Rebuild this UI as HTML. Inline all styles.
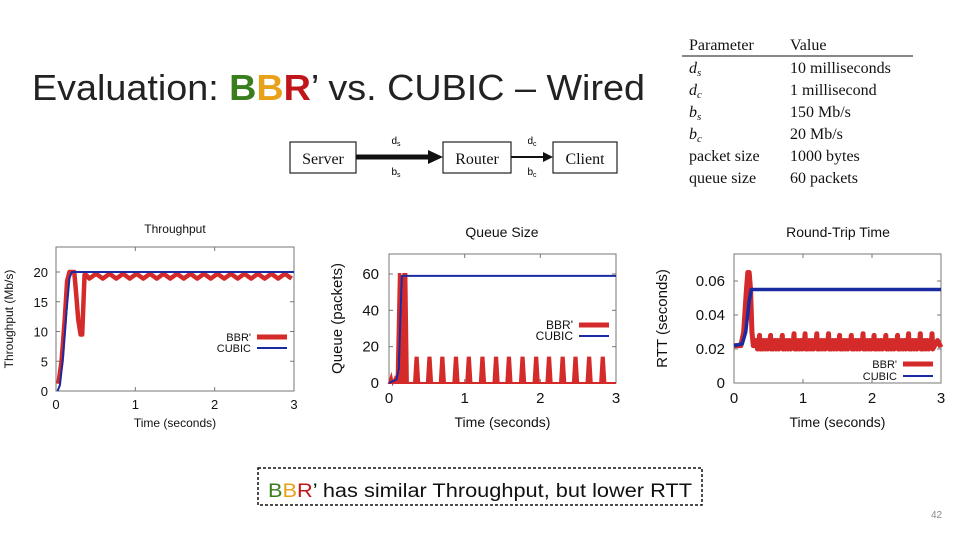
<!DOCTYPE html>
<html><head><meta charset="utf-8"><style>
html,body{margin:0;padding:0;background:#fff;}
svg{display:block;font-family:"Liberation Sans",sans-serif;}
.ser{font-family:"Liberation Serif",serif;font-size:16px;fill:#111;}
.tk{font-size:13px;fill:#111;}
.tk2{font-size:15px;fill:#111;}
</style></head><body>
<svg id="root" width="960" height="540" viewBox="0 0 960 540">
<text x="32" y="100" font-size="36" textLength="613" lengthAdjust="spacingAndGlyphs" fill="#222">Evaluation: <tspan fill="#3a7d1e" font-weight="bold">B</tspan><tspan fill="#e8a21a" font-weight="bold">B</tspan><tspan fill="#c0151a" font-weight="bold">R</tspan>’ vs. CUBIC – Wired</text>

<g>
<rect x="290" y="142" width="66" height="31" fill="none" stroke="#222" stroke-width="1.2"/>
<text x="323" y="164" class="ser" font-size="17" text-anchor="middle">Server</text>
<rect x="443" y="142" width="68" height="31" fill="none" stroke="#222" stroke-width="1.2"/>
<text x="477" y="164" class="ser" font-size="17" text-anchor="middle">Router</text>
<rect x="553" y="142" width="64" height="31" fill="none" stroke="#222" stroke-width="1.2"/>
<text x="585" y="164" class="ser" font-size="17" text-anchor="middle">Client</text>
<line x1="356" y1="157" x2="430" y2="157" stroke="#111" stroke-width="5"/>
<polygon points="428,150 443,157 428,164" fill="#111"/>
<line x1="511" y1="157" x2="545" y2="157" stroke="#111" stroke-width="2"/>
<polygon points="543,152 553,157 543,162" fill="#111"/>
<text x="396" y="144" font-size="10" text-anchor="middle">d<tspan font-size="7" dy="2">s</tspan></text>
<text x="396" y="175" font-size="10" text-anchor="middle">b<tspan font-size="7" dy="2">s</tspan></text>
<text x="532" y="144" font-size="10" text-anchor="middle">d<tspan font-size="7" dy="2">c</tspan></text>
<text x="532" y="175" font-size="10" text-anchor="middle">b<tspan font-size="7" dy="2">c</tspan></text>
</g>

<g>
<text x="689" y="50" class="ser">Parameter</text><text x="790" y="50" class="ser">Value</text>
<line x1="682" y1="56" x2="913" y2="56" stroke="#111" stroke-width="1"/>
<text x="689" y="73" class="ser" font-style="italic">d<tspan font-size="11" dy="3">s</tspan></text><text x="790" y="73" class="ser">10 milliseconds</text>
<text x="689" y="95" class="ser" font-style="italic">d<tspan font-size="11" dy="3">c</tspan></text><text x="790" y="95" class="ser">1 millisecond</text>
<text x="689" y="117" class="ser" font-style="italic">b<tspan font-size="11" dy="3">s</tspan></text><text x="790" y="117" class="ser">150 Mb/s</text>
<text x="689" y="139" class="ser" font-style="italic">b<tspan font-size="11" dy="3">c</tspan></text><text x="790" y="139" class="ser">20 Mb/s</text>
<text x="689" y="161" class="ser">packet size</text><text x="790" y="161" class="ser">1000 bytes</text>
<text x="689" y="183" class="ser">queue size</text><text x="790" y="183" class="ser">60 packets</text>
</g>

<g id="charts"></g>

<g>
<rect x="258" y="468" width="444" height="37" fill="#fff" stroke="#111" stroke-width="1.5" stroke-dasharray="3,2"/>
<text x="268" y="497" font-size="19" textLength="424" lengthAdjust="spacingAndGlyphs" fill="#111"><tspan fill="#3a7d1e">B</tspan><tspan fill="#e8a21a">B</tspan><tspan fill="#c0151a">R</tspan>’ has similar Throughput, but lower RTT</text>
</g>
<text x="931" y="518" font-size="10" fill="#888">42</text>
</svg>
<script>
// ---- Throughput data ----
const tpBbrT = [0.03,0.07,0.11,0.14,0.17,0.2,0.23,0.25,0.28,0.31,0.33,0.36,0.38,0.42,0.505,0.59,0.675,0.76,0.845,0.93,1.015,1.1,1.185,1.27,1.355,1.44,1.525,1.61,1.695,1.78,1.865,1.95,2.035,2.12,2.205,2.29,2.375,2.46,2.545,2.63,2.715,2.8,2.885,2.97];
const tpBbrV = [1.2,5,12,18.5,20,20,20,17,12,9.5,9.5,19.5,19.5,18.9,19.7,18.9,19.7,18.9,19.7,18.9,19.7,18.9,19.7,18.9,19.7,18.9,19.7,18.9,19.7,18.9,19.7,18.9,19.7,18.9,19.7,18.9,19.7,18.9,19.7,18.9,19.7,18.9,19.7,18.9];
const tpCubT = [0.02,0.05,0.09,0.13,0.17,0.2,0.22,3.0];
const tpCubV = [0,1,6,13,19,20,20,20];
const tpTicksY = [0,5,10,15,20];
const tpTicksX = [0,1,2,3];
// ---- Queue data ----
const qBbrT = [0,0.03,0.05,0.08,0.1,0.13,0.15,0.17,0.19,0.21,0.23,0.25];
const qBbrV = [0,4,0,3,1,60,60,0,60,60,60,0];
const qPulseStarts = [0.33,0.5,0.67,0.85,1.02,1.2,1.38,1.55,1.73,1.91,2.08,2.26,2.43,2.61,2.79];
const qPulseHeight = [14,14,14,14,14,14,14,14,14,14,14,14,14,14,14];
const qCubT = [0,0.05,0.1,0.13,0.15,0.17,0.19,3.0];
const qCubV = [0,1,2,8,35,59,59,59];
const qTicksY = [0,20,40,60];
const qTicksX = [0,1,2,3];
// ---- RTT data ----
const rBbrT = [0,0.1,0.14,0.18,0.2,0.22,0.24,0.26,0.28,0.3];
const rBbrV = [0.022,0.022,0.03,0.055,0.065,0.065,0.055,0.03,0.022,0.022];
const rSpikeT = [0.37,0.53,0.7,0.87,1.03,1.2,1.37,1.53,1.7,1.87,2.03,2.2,2.37,2.53,2.7,2.87];
const rSpikeV = [0.028,0.028,0.028,0.029,0.029,0.029,0.029,0.028,0.028,0.029,0.028,0.028,0.028,0.029,0.029,0.029];
const rCubT = [0,0.12,0.17,0.22,0.25,3.0];
const rCubV = [0.022,0.023,0.03,0.048,0.055,0.055];
const rTicksY = [0,0.02,0.04,0.06];
const rTicksY_lbl = ["0","0.02","0.04","0.06"];
const rTicksX = [0,1,2,3];

const NS = "http://www.w3.org/2000/svg";
const G = document.getElementById('charts');
function mk(tag, attrs, parent){const e=document.createElementNS(NS,tag);for(const k in attrs)e.setAttribute(k,attrs[k]);(parent||G).appendChild(e);return e;}
function axes(cfg){
  const x = t => cfg.x0 + (t - 0) / 3 * (cfg.x1 - cfg.x0);
  const y = v => cfg.y0 - (v - 0) / cfg.vmax * (cfg.y0 - cfg.yTop0);
  return {x,y};
}
function frame(cfg, ax, tickY, tickYLbl, tickX, cls){
  const g = mk('g',{});
  
  
  const fr = mk('rect',{x:cfg.x0,y:cfg.top,width:cfg.x1-cfg.x0,height:cfg.y0-cfg.top,fill:'none',stroke:'#777','stroke-width':1},g);
  
  
  tickY.forEach((v,i)=>{
    const yy = ax.y(v);
    mk('line',{x1:cfg.x0,y1:yy,x2:cfg.x0+4,y2:yy,stroke:'#777'},g);
    mk('line',{x1:cfg.x1,y1:yy,x2:cfg.x1-4,y2:yy,stroke:'#777'},g);
    const t = mk('text',{x:cfg.x0-cfg.lblGap,y:yy+5,'text-anchor':'end','class':cls},g);
    t.textContent = tickYLbl[i];
    
    
  });
  tickX.forEach(v=>{
    const xx = ax.x(v);
    mk('line',{x1:xx,y1:cfg.y0,x2:xx,y2:cfg.y0-4,stroke:'#777'},g);
    mk('line',{x1:xx,y1:cfg.top,x2:xx,y2:cfg.top+4,stroke:'#777'},g);
    const t = mk('text',{x:xx,y:cfg.y0+cfg.xlblGap,'text-anchor':'middle','class':cls},g);
    t.textContent = String(v);
    
    
  });
  const ti = mk('text',{x:cfg.titleX,y:cfg.titleY,'text-anchor':'middle','font-size':cfg.tfs,fill:'#111'},g);
  ti.textContent = cfg.title;
  
  
  const xt = mk('text',{x:(cfg.x0+cfg.x1)/2,y:cfg.xtY,'text-anchor':'middle','font-size':cfg.tfs,fill:'#111'},g);
  xt.textContent = 'Time (seconds)';
  
  
  const yt = mk('text',{x:0,y:0,'text-anchor':'middle','font-size':cfg.ytfs,fill:'#111',transform:`translate(${cfg.ytX},${(cfg.top+cfg.y0)/2}) rotate(-90)`},g);
  yt.textContent = cfg.ytitle;
  
  
  const l1 = mk('text',{x:cfg.legX,y:cfg.legY,'text-anchor':'end','font-size':cfg.lfs,fill:'#111'},g);
  l1.textContent = "BBR'";
  
  
  mk('line',{x1:cfg.legX+6,y1:cfg.legY-4,x2:cfg.legX+36,y2:cfg.legY-4,stroke:'#d42a2a','stroke-width':5},g);
  const l2 = mk('text',{x:cfg.legX,y:cfg.legY+cfg.legDy,'text-anchor':'end','font-size':cfg.lfs,fill:'#111'},g);
  l2.textContent = 'CUBIC';
  
  
  mk('line',{x1:cfg.legX+6,y1:cfg.legY+cfg.legDy-4,x2:cfg.legX+36,y2:cfg.legY+cfg.legDy-4,stroke:'#1a2aa0','stroke-width':2},g);
  return g;
}
function line(g, ax, T, V, color, w, name){
  const p = mk('polyline',{points:T.map((t,i)=>ax.x(t)+','+ax.y(V[i])).join(' '),fill:'none',stroke:color,'stroke-width':w,'stroke-linejoin':'round'},g);
  
  
  return p;
}

// Chart 1: throughput
const c1 = {name:'throughput-chart',x0:56,x1:294,y0:391,top:247,yTop0:272,vmax:20,lblGap:8,xlblGap:18,title:'Throughput',titleX:175,titleY:233,tfs:12,xtY:427,ytitle:'Throughput (Mb/s)',ytX:13,ytfs:12,legX:251,legY:341,legDy:11,lfs:11};
const a1 = axes(c1);
const g1 = frame(c1,a1,tpTicksY,tpTicksY.map(String),tpTicksX,'tk');
line(g1,a1,tpBbrT,tpBbrV,'#d42a2a',4.5,'series-bbr-throughput');
line(g1,a1,tpCubT,tpCubV,'#1a2aa0',2,'series-cubic-throughput');

// Chart 2: queue
const c2 = {name:'queue-size-chart',x0:389,x1:616,y0:383,top:254,yTop0:274,vmax:60,lblGap:10,xlblGap:20,title:'Queue Size',titleX:502,titleY:237,tfs:14,xtY:427,ytitle:'Queue (packets)',ytX:342,ytfs:15,legX:573,legY:329,legDy:11,lfs:12};
const a2 = axes(c2);
const g2 = frame(c2,a2,qTicksY,qTicksY.map(String),qTicksX,'tk2');
const qT = qBbrT.slice(), qV = qBbrV.slice();
qPulseStarts.forEach((s,i)=>{qT.push(s,s+0.02,s+0.05,s+0.07);qV.push(0,qPulseHeight[i],qPulseHeight[i],0);});
qT.push(3.0); qV.push(0);
const qp = mk('polygon',{points:qT.map((t,i)=>a2.x(t)+','+a2.y(qV[i])).join(' ')+' '+a2.x(3)+','+a2.y(0),fill:'#d42a2a',stroke:'#d42a2a','stroke-width':2},g2);


line(g2,a2,qCubT,qCubV,'#1a2aa0',2,'series-cubic-queue');

// Chart 3: RTT
const c3 = {name:'rtt-chart',x0:734,x1:941,y0:383,top:254,yTop0:281,vmax:0.06,lblGap:9,xlblGap:20,title:'Round-Trip Time',titleX:838,titleY:237,tfs:14,xtY:427,ytitle:'RTT (seconds)',ytX:667,ytfs:15,legX:897,legY:368,legDy:12,lfs:11};
const a3 = axes(c3);
const g3 = frame(c3,a3,rTicksY,rTicksY_lbl,rTicksX,'tk2');
const rT = rBbrT.slice(), rV = rBbrV.slice();
let last = 0.3;
rSpikeT.forEach((s,i)=>{
  for(let t=last+0.02;t<s-0.02;t+=0.02){rT.push(t);rV.push(rV[rV.length-1]>0.022?0.02:0.025);}
  rT.push(s-0.01,s,s+0.01);rV.push(0.024,rSpikeV[i],0.02);
  last=s;
});
rT.push(2.95,3.0); rV.push(0.025,0.021);
line(g3,a3,rT,rV,'#d42a2a',5,'series-bbr-rtt');
line(g3,a3,rCubT,rCubV,'#1a2aa0',3.5,'series-cubic-rtt');
</script>
</body></html>
